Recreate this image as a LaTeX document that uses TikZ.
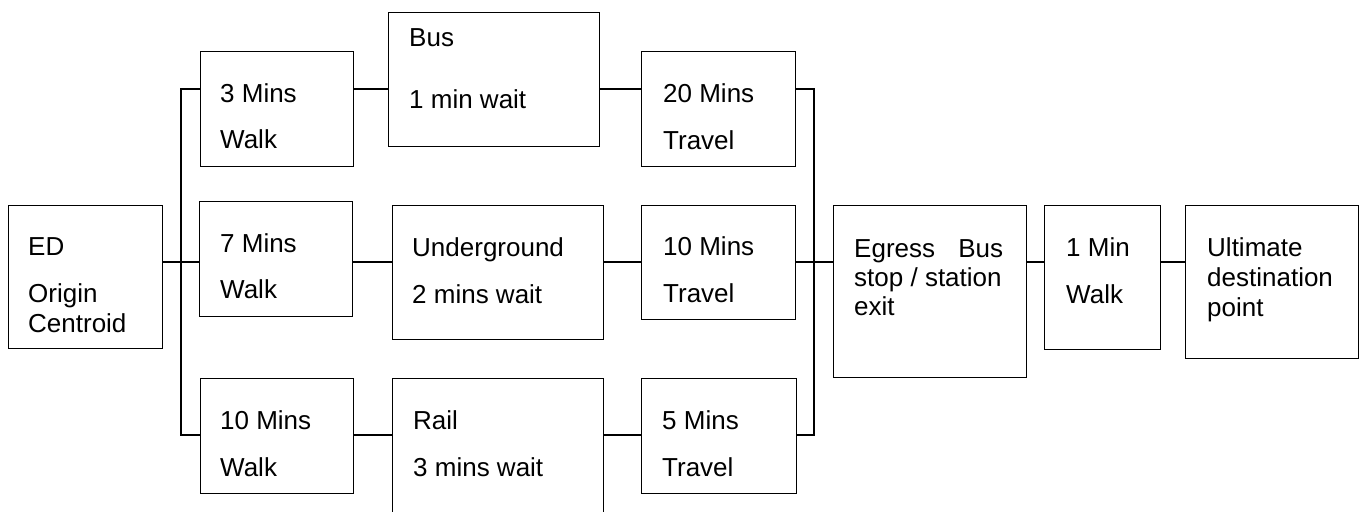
\documentclass[tikz,border=0pt]{standalone}
\usepackage{fontspec}
\setmainfont{Liberation Sans}
\begin{document}
\begin{tikzpicture}[x=1pt,y=-1pt,
  box/.style={draw, line width=1.2pt, inner sep=0pt, anchor=north west},
  txt/.style={anchor=base west, inner sep=0pt, font=\fontsize{26}{30}\selectfont},
  link/.style={line width=1.2pt}]
\useasboundingbox (0,0) rectangle (1364,511);
\clip (0,0) rectangle (1364,511);

% boxes
\node[box, minimum width=154pt, minimum height=143pt] (ed) at (8,205) {};
\node[box, minimum width=153pt, minimum height=115pt] (w1) at (200,51) {};
\node[box, minimum width=153pt, minimum height=115pt] (w2) at (199,201) {};
\node[box, minimum width=153pt, minimum height=115pt] (w3) at (200,378) {};
\node[box, minimum width=211pt, minimum height=134pt] (m1) at (388,12) {};
\node[box, minimum width=211pt, minimum height=134pt] (m2) at (392,205) {};
\node[box, minimum width=211pt, minimum height=150pt] (m3) at (392,378) {};
\node[box, minimum width=154pt, minimum height=115pt] (t1) at (641,51) {};
\node[box, minimum width=154pt, minimum height=114pt] (t2) at (641,205) {};
\node[box, minimum width=155pt, minimum height=115pt] (t3) at (641,378) {};
\node[box, minimum width=193pt, minimum height=172pt] (eg) at (833,205) {};
\node[box, minimum width=116pt, minimum height=144pt] (w4) at (1044,205) {};
\node[box, minimum width=173pt, minimum height=153pt] (ds) at (1185,205) {};

% texts
\node[txt] (eda) at (28,255) {ED};
\node[txt] (edb) at (28,302) {Origin};
\node[txt] (edc) at (28,332) {Centroid};
\node[txt] (w1a) at (220,102) {3 Mins};
\node[txt] (w1b) at (220,148) {Walk};
\node[txt] (w2a) at (220,252) {7 Mins};
\node[txt] (w2b) at (220,298) {Walk};
\node[txt] (w3a) at (220,429) {10 Mins};
\node[txt] (w3b) at (220,476) {Walk};
\node[txt] (m1a) at (409,47) {Bus};
\node[txt] (m1b) at (409,108) {1 min wait};
\node[txt] (m2a) at (412,256) {Underground};
\node[txt] (m2b) at (412,303) {2 mins wait};
\node[txt] (m3a) at (413,429) {Rail};
\node[txt] (m3b) at (413,476) {3 mins wait};
\node[txt] (t1a) at (663,102) {20 Mins};
\node[txt] (t1b) at (663,149) {Travel};
\node[txt] (t2a) at (663,255) {10 Mins};
\node[txt] (t2b) at (663,302) {Travel};
\node[txt] (t3a) at (662,429) {5 Mins};
\node[txt] (t3b) at (662,476) {Travel};
\node[txt] (ega) at (854,257) {\makebox[149pt][s]{Egress\hfill Bus}};
\node[txt] (egb) at (854,286) {stop / station};
\node[txt] (egc) at (854,315) {exit};
\node[txt] (w4a) at (1066,256) {1 Min};
\node[txt] (w4b) at (1066,303) {Walk};
\node[txt] (dsa) at (1207,256) {Ultimate};
\node[txt] (dsb) at (1207,286) {destination};
\node[txt] (dsc) at (1207,316) {point};

% junction points of the two vertical bars
\coordinate (jL1) at (181,89);
\coordinate (jL2) at (181,262);
\coordinate (jL3) at (181,435);
\coordinate (jR1) at (814,89);
\coordinate (jR2) at (814,262);
\coordinate (jR3) at (814,435);

% origin to the three walks
\draw[link] (jL2 -| ed.east) -- (jL2);
\draw[link] (jL1 -| w1.west) -- (jL1) -- (jL3) -- (jL3 -| w3.west);
\draw[link] (jL2) -- (jL2 -| w2.west);

% walk to mode
\draw[link] (jL1 -| w1.east) -- (jL1 -| m1.west);
\draw[link] (jL2 -| w2.east) -- (jL2 -| m2.west);
\draw[link] (jL3 -| w3.east) -- (jL3 -| m3.west);

% mode to travel
\draw[link] (jR1 -| m1.east) -- (jR1 -| t1.west);
\draw[link] (jR2 -| m2.east) -- (jR2 -| t2.west);
\draw[link] (jR3 -| m3.east) -- (jR3 -| t3.west);

% travel to egress
\draw[link] (jR1 -| t1.east) -- (jR1) -- (jR3) -- (jR3 -| t3.east);
\draw[link] (jR2 -| t2.east) -- (jR2 -| eg.west);

% egress to destination
\draw[link] (jR2 -| eg.east) -- (jR2 -| w4.west);
\draw[link] (jR2 -| w4.east) -- (jR2 -| ds.west);
\end{tikzpicture}
\end{document}
